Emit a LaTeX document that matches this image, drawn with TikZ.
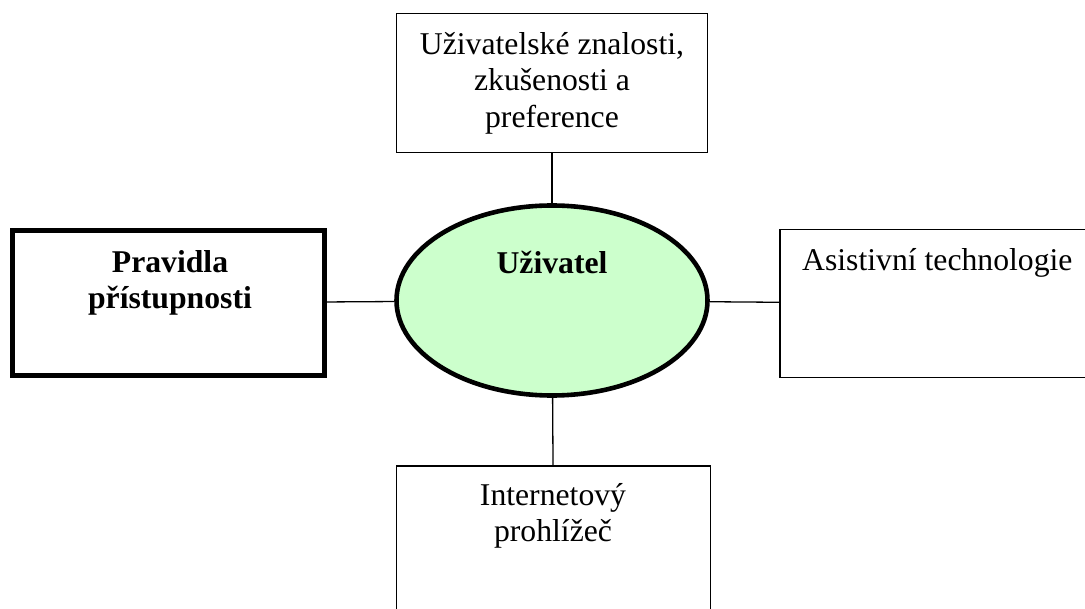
\documentclass[tikz,border=0pt]{standalone}
\usepackage{fontspec}
\setmainfont{Liberation Serif}
\usetikzlibrary{shapes.geometric}
\definecolor{lightgreen}{HTML}{CCFFCC}
\newcommand{\txt}{\fontsize{31.7}{36.6}\selectfont}

\begin{document}
\begin{tikzpicture}[x=1pt,y=-1pt,
    box/.style={draw,line width=1.3pt,inner sep=0pt},
    thickbox/.style={draw,line width=4.6pt,inner sep=0pt},
    label/.style={inner sep=0pt,font=\txt,align=center},
    link/.style={line width=1.3pt}]
    \useasboundingbox (0,0) rectangle (1085,609);
    \node[ellipse,draw,line width=4.6pt,fill=lightgreen,minimum width=311pt,minimum height=190pt] (U) at (552,300.5) {};
    \node[box,minimum width=311pt,minimum height=139pt,font=\txt,align=center] (Z) at (552,83) {U\v{z}ivatelsk\'e znalosti,\\zku\v{s}enosti a\\preference};
    \node[thickbox,minimum width=312pt,minimum height=145pt] (P) at (168.5,303) {};
    \node[box,minimum width=312pt,minimum height=148pt] (A) at (936,303.5) {};
    \node[box,minimum width=314pt,minimum height=150pt] (I) at (553.5,541) {};
    \node[label,font=\txt\bfseries,anchor=north] (Ut) at (552,251) {U\v{z}ivatel};
    \node[label,font=\txt\bfseries,anchor=north] (Pt) at (170,250) {Pravidla\\p\v{r}\'istupnosti};
    \node[label,anchor=north west] (At) at (802,248) {Asistivn\'i technologie};
    \node[label,anchor=north] (It) at (553,483) {Internetov\'y\\prohl\'i\v{z}e\v{c}};
    \draw[link] (Z) -- (U);
    \draw[link] (P) -- (U);
    \draw[link] (U) -- (A);
    \draw[link] (U) -- (I);
  \end{tikzpicture}
\end{document}
